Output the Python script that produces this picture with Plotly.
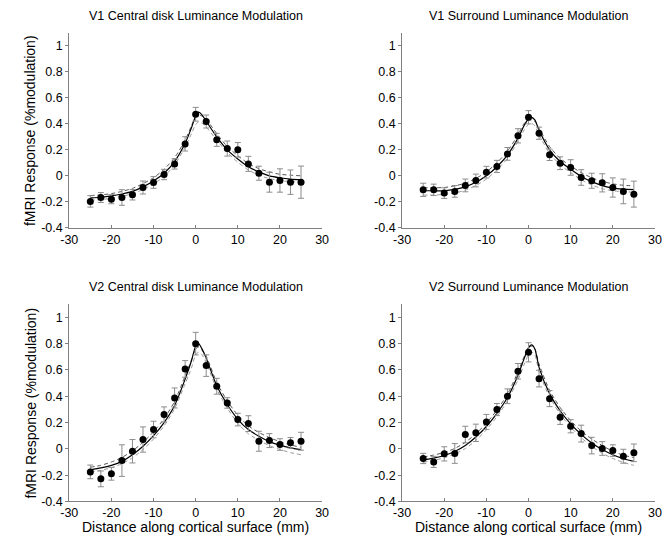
import plotly.graph_objects as go

# ---------------- data ----------------
dist = [-25, -22.5, -20, -17.5, -15, -12.5, -10, -7.5, -5, -2.5, 0,
        2.5, 5, 7.5, 10, 12.5, 15, 17.5, 20, 22.5, 25]

titles = ["V1 Central disk Luminance Modulation",
          "V1 Surround Luminance Modulation",
          "V2 Central disk Luminance Modulation",
          "V2 Surround Luminance Modulation"]

v1c_mean = [-0.197, -0.167, -0.18, -0.167, -0.146, -0.09, -0.051, 0.01, 0.092, 0.246, 0.474,
            0.418, 0.277, 0.21, 0.2, 0.092, 0.02, -0.049, -0.036, -0.049, -0.049]
v1c_err = [0.044, 0.038, 0.035, 0.06, 0.04, 0.05, 0.045, 0.04, 0.04, 0.055, 0.053,
           0.05, 0.05, 0.058, 0.056, 0.058, 0.054, 0.077, 0.09, 0.094, 0.124]

v1s_mean = [-0.108, -0.108, -0.133, -0.12, -0.074, -0.036, 0.028, 0.072, 0.169, 0.308, 0.451,
            0.328, 0.162, 0.097, 0.064, -0.013, -0.038, -0.054, -0.09, -0.12, -0.141]
v1s_err = [0.051, 0.044, 0.041, 0.045, 0.049, 0.049, 0.045, 0.047, 0.049, 0.055, 0.051,
           0.047, 0.044, 0.049, 0.06, 0.06, 0.058, 0.07, 0.074, 0.095, 0.1]

v2c_mean = [-0.175, -0.228, -0.19, -0.089, -0.018, 0.071, 0.147, 0.261, 0.387, 0.608, 0.8,
            0.633, 0.476, 0.349, 0.223, 0.192, 0.058, 0.063, 0.033, 0.046, 0.058]
v2c_err = [0.052, 0.06, 0.048, 0.12, 0.089, 0.096, 0.063, 0.058, 0.076, 0.063, 0.086,
           0.082, 0.06, 0.04, 0.048, 0.06, 0.076, 0.053, 0.044, 0.04, 0.068]

v2s_mean = [-0.073, -0.099, -0.038, -0.035, 0.109, 0.122, 0.205, 0.299, 0.4, 0.59, 0.734,
            0.534, 0.382, 0.24, 0.172, 0.116, 0.025, 0.003, -0.013, -0.056, -0.03]
v2s_err = [0.039, 0.042, 0.054, 0.075, 0.063, 0.066, 0.057, 0.046, 0.056, 0.059, 0.073,
           0.063, 0.061, 0.054, 0.05, 0.064, 0.063, 0.052, 0.044, 0.053, 0.067]

# fitted curves (at these positions)
fit_x = [-25, -22.5, -20, -17.5, -15, -12.5, -10, -7.5, -5, -2.5, -1, 0, 0.7, 1.5,
         2.5, 5, 7.5, 10, 12.5, 15, 17.5, 20, 22.5, 25]

v1c_fit = [-0.17, -0.165, -0.155, -0.14, -0.12, -0.085, -0.04, 0.02, 0.11, 0.25, 0.37, 0.46, 0.49, 0.47,
           0.42, 0.30, 0.20, 0.13, 0.07, 0.03, 0.0, -0.015, -0.025, -0.03]
v1c_hi = [-0.152, -0.147, -0.137, -0.12, -0.097, -0.06, -0.015, 0.05, 0.14, 0.275, 0.385, 0.455, 0.47, 0.46,
          0.435, 0.325, 0.225, 0.155, 0.095, 0.055, 0.03, 0.012, 0.005, 0.0]
v1c_lo = [-0.188, -0.183, -0.173, -0.158, -0.138, -0.105, -0.062, -0.005, 0.085, 0.22, 0.325, 0.395, 0.415, 0.405,
          0.375, 0.275, 0.18, 0.105, 0.045, 0.005, -0.022, -0.037, -0.045, -0.048]

v1s_fit = [-0.115, -0.115, -0.115, -0.105, -0.085, -0.05, 0.0, 0.07, 0.16, 0.29, 0.39, 0.44, 0.45, 0.43,
           0.35, 0.20, 0.11, 0.05, -0.005, -0.045, -0.075, -0.095, -0.103, -0.107]
v1s_hi = [-0.092, -0.092, -0.09, -0.077, -0.057, -0.02, 0.03, 0.1, 0.19, 0.315, 0.405, 0.43, 0.43, 0.42,
          0.365, 0.225, 0.135, 0.075, 0.025, -0.015, -0.042, -0.062, -0.073, -0.077]
v1s_lo = [-0.148, -0.148, -0.143, -0.133, -0.11, -0.075, -0.025, 0.045, 0.135, 0.265, 0.355, 0.395, 0.405, 0.385,
          0.315, 0.175, 0.085, 0.025, -0.03, -0.07, -0.1, -0.115, -0.122, -0.126]

v2c_fit = [-0.16, -0.145, -0.125, -0.095, -0.045, 0.02, 0.10, 0.20, 0.33, 0.53, 0.67, 0.78, 0.80, 0.76,
           0.69, 0.48, 0.337, 0.225, 0.147, 0.096, 0.055, 0.028, 0.008, -0.005]
v2c_hi = [-0.14, -0.125, -0.1, -0.065, -0.015, 0.05, 0.13, 0.23, 0.36, 0.555, 0.675, 0.76, 0.775, 0.75,
          0.705, 0.505, 0.365, 0.255, 0.175, 0.125, 0.085, 0.055, 0.03, 0.012]
v2c_lo = [-0.178, -0.163, -0.143, -0.113, -0.068, -0.005, 0.075, 0.175, 0.305, 0.495, 0.615, 0.715, 0.735, 0.715,
          0.655, 0.455, 0.31, 0.195, 0.115, 0.065, 0.025, -0.005, -0.028, -0.045]

v2s_fit = [-0.085, -0.07, -0.05, -0.02, 0.025, 0.09, 0.17, 0.27, 0.39, 0.56, 0.69, 0.77, 0.79, 0.76,
           0.62, 0.42, 0.29, 0.19, 0.11, 0.045, -0.005, -0.045, -0.075, -0.095]
v2s_hi = [-0.062, -0.047, -0.027, 0.003, 0.05, 0.115, 0.195, 0.295, 0.415, 0.585, 0.705, 0.77, 0.78, 0.76,
          0.645, 0.445, 0.315, 0.215, 0.135, 0.075, 0.025, -0.018, -0.048, -0.066]
v2s_lo = [-0.102, -0.088, -0.068, -0.038, 0.002, 0.065, 0.145, 0.245, 0.365, 0.525, 0.645, 0.715, 0.735, 0.715,
          0.585, 0.395, 0.265, 0.165, 0.085, 0.02, -0.033, -0.073, -0.103, -0.125]

x_ticks = [-30, -20, -10, 0, 10, 20, 30]
x_ticktext = ["-30", "-20", "-10", "0", "10", "20", "30"]
y_ticks = [-0.4, -0.2, 0, 0.2, 0.4, 0.6, 0.8, 1]
y_ticktext = ["-0.4", "-0.2", "0", "0.2", "0.4", "0.6", "0.8", "1"]

panels = [
    (v1c_mean, v1c_err, v1c_fit, v1c_hi, v1c_lo),
    (v1s_mean, v1s_err, v1s_fit, v1s_hi, v1s_lo),
    (v2c_mean, v2c_err, v2c_fit, v2c_hi, v2c_lo),
    (v2s_mean, v2s_err, v2s_fit, v2s_hi, v2s_lo),
]

# ---------------- layout geometry ----------------
W, H = 662, 538
S = 0.988  # observed render scale compensation


def px(v):
    return v / S


xdoms = [(px(61) / W, px(317) / W), (px(398) / W, min(px(654), W) / W)]
ydoms = [((H - px(228)) / H, (H - px(33)) / H), ((H - px(502)) / H, (H - px(304.5)) / H)]

FONT = "Liberation Sans, Arial, Helvetica, sans-serif"
fig = go.Figure()

for i, (mean, err, fit, hi, lo) in enumerate(panels):
    n = i + 1
    xa = "x" if n == 1 else f"x{n}"
    ya = "y" if n == 1 else f"y{n}"
    fig.add_trace(go.Scatter(x=fit_x, y=hi, mode="lines", xaxis=xa, yaxis=ya,
                             line=dict(color="#555555", width=1, dash="4px,3px", shape="spline", smoothing=0.7),
                             showlegend=False, hoverinfo="skip"))
    fig.add_trace(go.Scatter(x=fit_x, y=lo, mode="lines", xaxis=xa, yaxis=ya,
                             line=dict(color="#999999", width=1, dash="4px,3px", shape="spline", smoothing=0.7),
                             showlegend=False, hoverinfo="skip"))
    fig.add_trace(go.Scatter(x=fit_x, y=fit, mode="lines", xaxis=xa, yaxis=ya,
                             line=dict(color="black", width=1.2, shape="spline", smoothing=0.7),
                             showlegend=False, hoverinfo="skip"))
    fig.add_trace(go.Scatter(x=dist, y=mean, mode="markers", xaxis=xa, yaxis=ya,
                             marker=dict(color="black", size=7),
                             error_y=dict(type="data", array=err, color="#8c8c8c", thickness=1, width=3),
                             showlegend=False))

    col = i % 2
    row = i // 2
    xkey = "xaxis" if n == 1 else f"xaxis{n}"
    ykey = "yaxis" if n == 1 else f"yaxis{n}"
    fig.layout[xkey] = dict(
        domain=xdoms[col], anchor=ya, range=[-30, 30],
        tickvals=x_ticks, ticktext=x_ticktext, ticks="inside", ticklen=3,
        tickcolor="#808080", showline=True, linecolor="#808080", linewidth=1,
        showgrid=False, zeroline=False, tickfont=dict(size=12.5, color="black", family=FONT),
    )
    fig.layout[ykey] = dict(
        domain=ydoms[row], anchor=xa, range=[-0.4, 1.1],
        tickvals=y_ticks, ticktext=y_ticktext, ticks="outside", ticklen=3,
        tickcolor="#808080", showline=True, linecolor="#808080", linewidth=1,
        showgrid=False, zeroline=False, tickfont=dict(size=12.5, color="black", family=FONT),
    )
    cx = (xdoms[col][0] + xdoms[col][1]) / 2
    fig.add_annotation(text=titles[i], xref="paper", yref="paper", x=cx,
                       y=ydoms[row][1] + px(8) / H, yanchor="bottom", xanchor="center",
                       showarrow=False, font=dict(size=12.5, color="black", family=FONT))
    if row == 1:
        fig.add_annotation(text="Distance along cortical surface (mm)", xref="paper", yref="paper",
                           x=cx, y=(H - px(527.5)) / H, yanchor="middle", xanchor="center",
                           showarrow=False, font=dict(size=14, color="black", family=FONT))
    if col == 0:
        cy = (ydoms[row][0] + ydoms[row][1]) / 2
        fig.add_annotation(text="fMRI Response (%modulation)", xref="paper", yref="paper",
                           x=px(22) / W, y=cy, yanchor="middle", xanchor="center", textangle=-90,
                           showarrow=False, font=dict(size=14, color="black", family=FONT))

fig.update_layout(width=W, height=H, margin=dict(l=0, r=0, t=0, b=0),
                  paper_bgcolor="white", plot_bgcolor="white", font=dict(family=FONT))

fig.write_html(
    "out.html",
    config={"displayModeBar": False},
    post_script=("document.documentElement.style.margin='0';"
                 "document.body.style.margin='0';"
                 "document.documentElement.style.overflow='hidden';"
                 "document.body.style.overflow='hidden';"
                 "document.body.style.height='538px';"),
)
